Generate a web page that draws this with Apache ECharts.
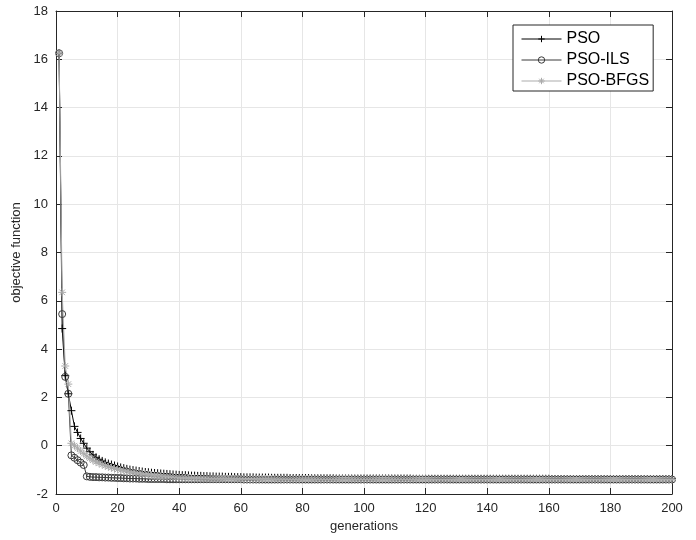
<!DOCTYPE html>
<html>
<head>
<meta charset="utf-8">
<script src="https://cdn.jsdelivr.net/npm/echarts@6/dist/echarts.min.js"></script>
<style>
  html, body { margin: 0; padding: 0; background: #fff; }
  #main { width: 696px; height: 540px; }
</style>
</head>
<body>
<div id="main"></div>
<script>
// objective function per generation (gen 1..200)
var pso = [
  16.25, 4.85, 2.9, 2.15, 1.45, 0.8, 0.55, 0.3, 0.1, -0.1,
  -0.25, -0.38, -0.48, -0.56, -0.63, -0.69, -0.74, -0.78, -0.82, -0.86,
  -0.9, -0.93, -0.96, -0.99, -1.01, -1.03, -1.05, -1.07, -1.09, -1.1,
  -1.12, -1.13, -1.14, -1.15, -1.16, -1.17, -1.18, -1.19, -1.2, -1.21,
  -1.22, -1.22, -1.23, -1.24, -1.24, -1.25, -1.25, -1.26, -1.26, -1.27,
  -1.27, -1.28, -1.28, -1.28, -1.29, -1.29, -1.29, -1.3, -1.3, -1.3,
  -1.31, -1.31, -1.31, -1.31, -1.32, -1.32, -1.32, -1.32, -1.32, -1.33,
  -1.33, -1.33, -1.33, -1.33, -1.33, -1.34, -1.34, -1.34, -1.34, -1.34,
  -1.34, -1.34, -1.35, -1.35, -1.35, -1.35, -1.35, -1.35, -1.35, -1.35,
  -1.36, -1.36, -1.36, -1.36, -1.36, -1.36, -1.36, -1.36, -1.36, -1.36,
  -1.36, -1.36, -1.36, -1.36, -1.36, -1.36, -1.36, -1.36, -1.36, -1.36,
  -1.36, -1.36, -1.36, -1.36, -1.36, -1.37, -1.37, -1.37, -1.37, -1.37,
  -1.37, -1.37, -1.37, -1.37, -1.37, -1.37, -1.37, -1.37, -1.37, -1.37,
  -1.37, -1.37, -1.37, -1.37, -1.37, -1.37, -1.37, -1.37, -1.37, -1.37,
  -1.37, -1.37, -1.37, -1.37, -1.37, -1.37, -1.37, -1.37, -1.37, -1.37,
  -1.37, -1.37, -1.37, -1.37, -1.37, -1.37, -1.37, -1.37, -1.37, -1.37,
  -1.38, -1.38, -1.38, -1.38, -1.38, -1.38, -1.38, -1.38, -1.38, -1.38,
  -1.38, -1.38, -1.38, -1.38, -1.38, -1.38, -1.38, -1.38, -1.38, -1.38,
  -1.38, -1.38, -1.38, -1.38, -1.38, -1.38, -1.38, -1.38, -1.38, -1.38,
  -1.38, -1.38, -1.38, -1.38, -1.38, -1.38, -1.38, -1.38, -1.38, -1.38
];
var psoIls = [
  16.25, 5.45, 2.85, 2.15, -0.4, -0.5, -0.6, -0.7, -0.8, -1.27,
  -1.29, -1.3, -1.3, -1.31, -1.31, -1.32, -1.32, -1.33, -1.33, -1.34,
  -1.34, -1.35, -1.35, -1.36, -1.36, -1.36, -1.37, -1.37, -1.37, -1.38,
  -1.38, -1.38, -1.38, -1.38, -1.38, -1.39, -1.39, -1.39, -1.39, -1.39,
  -1.39, -1.39, -1.39, -1.39, -1.39, -1.39, -1.39, -1.39, -1.39, -1.39,
  -1.39, -1.39, -1.39, -1.39, -1.39, -1.39, -1.39, -1.39, -1.39, -1.39,
  -1.4, -1.4, -1.4, -1.4, -1.4, -1.4, -1.4, -1.4, -1.4, -1.4,
  -1.4, -1.4, -1.4, -1.4, -1.4, -1.4, -1.4, -1.4, -1.4, -1.4,
  -1.4, -1.4, -1.4, -1.4, -1.4, -1.4, -1.4, -1.4, -1.4, -1.4,
  -1.4, -1.4, -1.4, -1.4, -1.4, -1.4, -1.4, -1.4, -1.4, -1.4,
  -1.4, -1.4, -1.4, -1.4, -1.4, -1.4, -1.4, -1.4, -1.4, -1.4,
  -1.4, -1.4, -1.4, -1.4, -1.4, -1.4, -1.4, -1.4, -1.4, -1.4,
  -1.4, -1.4, -1.4, -1.4, -1.4, -1.4, -1.4, -1.4, -1.4, -1.4,
  -1.4, -1.4, -1.4, -1.4, -1.4, -1.4, -1.4, -1.4, -1.4, -1.4,
  -1.4, -1.4, -1.4, -1.4, -1.4, -1.4, -1.4, -1.4, -1.4, -1.4,
  -1.4, -1.4, -1.4, -1.4, -1.4, -1.4, -1.4, -1.4, -1.4, -1.4,
  -1.4, -1.4, -1.4, -1.4, -1.4, -1.4, -1.4, -1.4, -1.4, -1.4,
  -1.4, -1.4, -1.4, -1.4, -1.4, -1.4, -1.4, -1.4, -1.4, -1.4,
  -1.4, -1.4, -1.4, -1.4, -1.4, -1.4, -1.4, -1.4, -1.4, -1.4,
  -1.4, -1.4, -1.4, -1.4, -1.4, -1.4, -1.4, -1.4, -1.4, -1.4
];
var psoBfgs = [
  16.25, 6.35, 3.3, 2.55, 0.1, 0, -0.1, -0.22, -0.33, -0.43,
  -0.52, -0.6, -0.67, -0.73, -0.78, -0.83, -0.87, -0.91, -0.95, -0.98,
  -1.01, -1.04, -1.06, -1.08, -1.1, -1.12, -1.14, -1.16, -1.18, -1.2,
  -1.22, -1.24, -1.25, -1.26, -1.27, -1.28, -1.29, -1.3, -1.31, -1.32,
  -1.33, -1.33, -1.34, -1.34, -1.35, -1.35, -1.36, -1.36, -1.36, -1.37,
  -1.37, -1.37, -1.37, -1.37, -1.37, -1.38, -1.38, -1.38, -1.38, -1.38,
  -1.38, -1.38, -1.38, -1.38, -1.38, -1.38, -1.38, -1.38, -1.38, -1.38,
  -1.39, -1.39, -1.39, -1.39, -1.39, -1.39, -1.39, -1.39, -1.39, -1.39,
  -1.39, -1.39, -1.39, -1.39, -1.39, -1.39, -1.39, -1.39, -1.39, -1.39,
  -1.39, -1.39, -1.39, -1.39, -1.39, -1.39, -1.39, -1.39, -1.39, -1.39,
  -1.39, -1.39, -1.39, -1.39, -1.39, -1.39, -1.39, -1.39, -1.39, -1.39,
  -1.39, -1.39, -1.39, -1.39, -1.39, -1.39, -1.39, -1.39, -1.39, -1.39,
  -1.4, -1.4, -1.4, -1.4, -1.4, -1.4, -1.4, -1.4, -1.4, -1.4,
  -1.4, -1.4, -1.4, -1.4, -1.4, -1.4, -1.4, -1.4, -1.4, -1.4,
  -1.4, -1.4, -1.4, -1.4, -1.4, -1.4, -1.4, -1.4, -1.4, -1.4,
  -1.4, -1.4, -1.4, -1.4, -1.4, -1.4, -1.4, -1.4, -1.4, -1.4,
  -1.4, -1.4, -1.4, -1.4, -1.4, -1.4, -1.4, -1.4, -1.4, -1.4,
  -1.4, -1.4, -1.4, -1.4, -1.4, -1.4, -1.4, -1.4, -1.4, -1.4,
  -1.4, -1.4, -1.4, -1.4, -1.4, -1.4, -1.4, -1.4, -1.4, -1.4,
  -1.4, -1.4, -1.4, -1.4, -1.4, -1.4, -1.4, -1.4, -1.4, -1.4
];
var seriesNames = ['PSO', 'PSO-ILS', 'PSO-BFGS'];

var axisColor = '#262626';
var gridColor = '#e6e6e6';
var font = '"Liberation Sans", Arial, Helvetica, sans-serif';

function pairs(arr) {
    return arr.map(function(v, i) { return [i + 1, v]; });
}

// marker shapes (stroked, no fill)
var plusSym = 'path://M5,0L5,10M0,5L10,5';
var circSym = 'path://M10,5A5,5 0 1 1 0,5A5,5 0 1 1 10,5Z';
var starSym = 'path://M5,0L5,10M0,5L10,5M1.5,1.5L8.5,8.5M8.5,1.5L1.5,8.5';

function boxAxis(pos, isX) {
    return {
        type: 'value',
        position: pos,
        min: isX ? 0 : -2,
        max: isX ? 200 : 18,
        interval: isX ? 20 : 2,
        axisLine: { show: true, onZero: false, lineStyle: { color: axisColor, width: 1 } },
        axisTick: { show: true, inside: true, length: 6, lineStyle: { color: axisColor } },
        axisLabel: { show: false },
        splitLine: { show: false }
    };
}

var xMain = boxAxis('bottom', true);
xMain.axisLabel = { show: true, color: axisColor, fontSize: 13, fontFamily: font, margin: 8 };
xMain.splitLine = { show: true, lineStyle: { color: gridColor, width: 1 } };
xMain.name = 'generations';
xMain.nameLocation = 'middle';
xMain.nameGap = 18;
xMain.nameTextStyle = { color: axisColor, fontSize: 13, fontFamily: font };

var yMain = boxAxis('left', false);
yMain.axisLabel = { show: true, color: axisColor, fontSize: 13, fontFamily: font, margin: 8 };
yMain.splitLine = { show: true, lineStyle: { color: gridColor, width: 1 } };
yMain.name = 'objective function';
yMain.nameLocation = 'middle';
yMain.nameGap = 30;
yMain.nameTextStyle = { color: axisColor, fontSize: 13, fontFamily: font };

function mkSeries(name, data, color, sym, size) {
    return {
        name: name,
        type: 'line',
        data: pairs(data),
        symbol: sym,
        symbolSize: size,
        showSymbol: true,
        showAllSymbol: true,
        color: color,
        lineStyle: { color: color, width: 1 },
        itemStyle: { color: 'none', borderColor: color, borderWidth: 1 },
        emphasis: { disabled: true }
    };
}

var option = {
    animation: false,
    backgroundColor: '#fff',
    grid: { left: 56, top: 11, width: 616, height: 483, containLabel: false },
    legend: {
        data: seriesNames,
        orient: 'vertical',
        left: 513,
        top: 25,
        padding: [6, 4, 2, 8],
        itemGap: 5,
        itemWidth: 40,
        itemHeight: 8,
        backgroundColor: '#fff',
        borderColor: axisColor,
        borderWidth: 1,
        borderRadius: 0,
        lineStyle: { width: 1 },
        itemStyle: { borderWidth: 1 },
        textStyle: { color: '#000', fontSize: 16, lineHeight: 16, fontFamily: font }
    },
    xAxis: [xMain, boxAxis('top', true)],
    yAxis: [yMain, boxAxis('right', false)],
    series: [
        mkSeries(seriesNames[0], pso, '#000000', plusSym, 8),
        mkSeries(seriesNames[1], psoIls, '#3a3a3a', circSym, 7),
        mkSeries(seriesNames[2], psoBfgs, '#ababab', starSym, 8)
    ]
};

var myChart = echarts.init(document.getElementById('main'));
myChart.setOption(option);
</script>
</body>
</html>
